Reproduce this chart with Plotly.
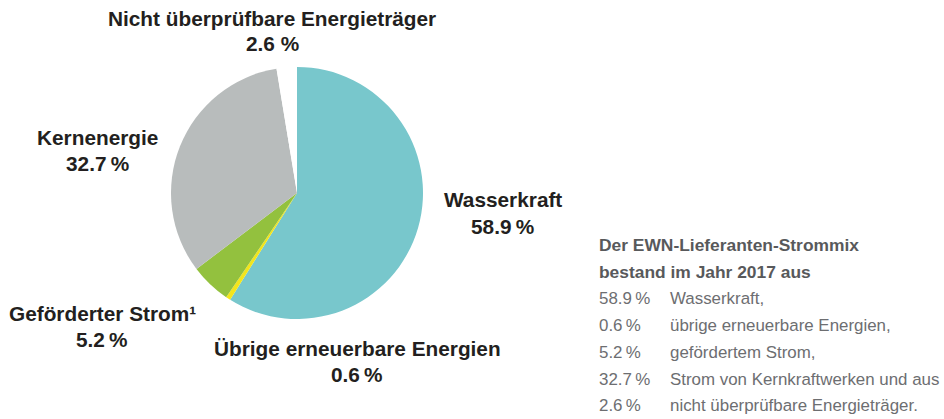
import plotly.graph_objects as go

labels = ["Wasserkraft", "Übrige erneuerbare Energien", "Geförderter Strom", "Kernenergie", "Nicht überprüfbare Energieträger"]
values = [58.9, 0.6, 5.2, 32.7, 2.6]
colors = ["#78c7cc", "#f2e51b", "#93c13e", "#b8bcbc", "#ffffff"]

label_lines = [
    ("Nicht überprüfbare Energieträger", "2.6 %"),
    ("Kernenergie", "32.7\u2009%"),
    ("Wasserkraft", "58.9\u2009%"),
    ("Geförderter Strom¹", "5.2\u2009%"),
    ("Übrige erneuerbare Energien", "0.6\u2009%"),
]
label_pos = [(272, 18), (97, 137), (503, 200), (102, 313), (357, 348)]

summary_title = ["Der EWN-Lieferanten-Strommix", "bestand im Jahr 2017 aus"]
summary_pct = ["58.9\u2009%", "0.6\u2009%", "5.2\u2009%", "32.7\u2009%", "2.6\u2009%"]
summary_txt = ["Wasserkraft,", "übrige erneuerbare Energien,", "gefördertem Strom,",
               "Strom von Kernkraftwerken und aus", "nicht überprüfbare Energieträger."]

W, H = 944, 419
cx, cy, r = 297, 193, 126

fig = go.Figure(go.Pie(
    labels=labels, values=values, sort=False, direction="clockwise", rotation=0,
    marker=dict(colors=colors, line=dict(width=0)),
    textinfo="none", hoverinfo="label+percent", showlegend=False,
    domain=dict(x=[(cx - r) / W, (cx + r) / W], y=[1 - (cy + r) / H, 1 - (cy - r) / H]),
))

ann = []
def px(x, y, text, size, color, bold=False, xanchor="center"):
    ann.append(dict(x=x / W, y=1 - y / H, xref="paper", yref="paper", xanchor=xanchor, yanchor="middle",
                    text=f"<b>{text}</b>" if bold else text, showarrow=False,
                    font=dict(family="Liberation Sans, Arial, sans-serif", size=size, color=color)))

for (l1, l2), (x, y) in zip(label_lines, label_pos):
    px(x, y, l1, 20.8, "#231f20", bold=True)
    px(x, y + 26, l2, 20.8, "#231f20", bold=True)

y0 = 245
for i, t in enumerate(summary_title):
    px(597, y0 + i * 26.8, t, 17.4, "#58595b", bold=True, xanchor="left")
for i, (p, t) in enumerate(zip(summary_pct, summary_txt)):
    yy = y0 + (i + 2) * 26.8
    px(597, yy, p, 16.9, "#6d6e71", xanchor="left")
    px(668, yy, t, 16.9, "#6d6e71", xanchor="left")

fig.update_layout(width=W, height=H, margin=dict(l=0, r=0, t=0, b=0),
                  paper_bgcolor="white", plot_bgcolor="white", annotations=ann)
fig.write_html("out.html", config={"displayModeBar": False},
               post_script="document.body.style.margin='0';document.body.style.overflow='hidden';")
